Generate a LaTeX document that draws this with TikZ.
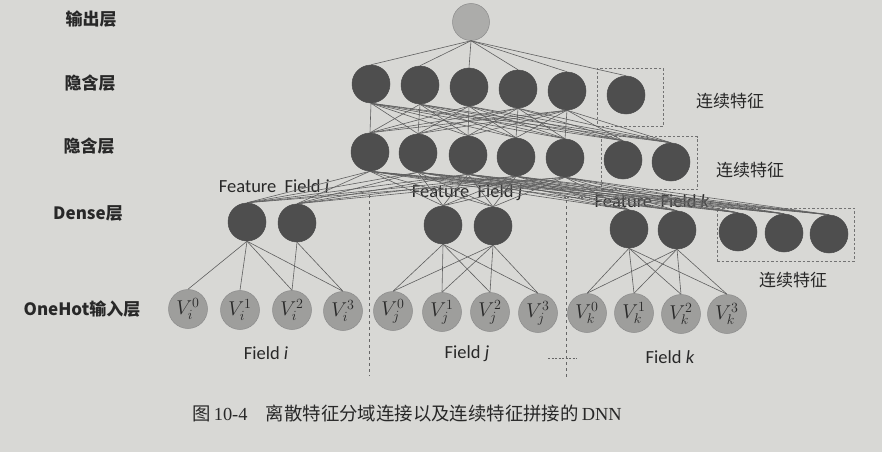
\RequirePackage{fix-cm}
\documentclass[tikz,border=0pt]{standalone}
\usepackage{fontspec}
\newfontfamily\cjk{Noto Sans CJK SC}
\newfontfamily\lab{Carlito}
\newfontfamily\capser{Liberation Serif}
\definecolor{bgcol}{RGB}{216,216,213}
\definecolor{ink}{RGB}{40,40,40}
\definecolor{hidfill}{RGB}{78,78,78}
\definecolor{inpfill}{RGB}{158,158,156}
\definecolor{outfill}{RGB}{172,172,170}
\definecolor{linecol}{RGB}{95,95,95}
\newcommand{\vlab}[2]{{\fontsize{20}{20}\selectfont$V_{#1}^{#2}$}}
\begin{document}
\begin{tikzpicture}[x=1pt,y=-1pt,
  hid/.style={circle,draw=black!70,fill=hidfill,minimum size=38pt,inner sep=0pt,line width=0.5pt},
  inp/.style={circle,draw=black!45,fill=inpfill,minimum size=39pt,inner sep=0pt,line width=0.5pt,text=ink},
  outn/.style={circle,draw=black!45,fill=outfill,minimum size=37pt,inner sep=0pt,line width=0.5pt},
  conn/.style={draw=linecol,line width=0.6pt},
  grp/.style={draw=black!55,line width=0.7pt,dash pattern=on 2.5pt off 2pt},
  sep/.style={draw=black!60,line width=0.7pt,dash pattern=on 3pt off 3pt},
  lay/.style={font=\cjk\bfseries\fontsize{17}{17}\selectfont,text=ink,anchor=center},
  cont/.style={font=\cjk\fontsize{17}{17}\selectfont,text=ink,anchor=center},
  fld/.style={font=\lab\fontsize{18.5}{18.5}\selectfont,text=ink,anchor=center}]
\fill[bgcol] (0,0) rectangle (882,452);
\useasboundingbox (0,0) rectangle (882,452);

% layer labels
\node[lay] (L1) at (91,19) {输出层};
\node[lay] (L2) at (90,83) {隐含层};
\node[lay] (L3) at (89,146) {隐含层};
\node[lay] (L4) at (88,213) {Dense层};
\node[lay] (L5) at (82,309) {OneHot输入层};

% group boxes
\node[grp,minimum width=66pt,minimum height=58pt,inner sep=0pt] (B1) at (630,97) {};
\node[grp,minimum width=96pt,minimum height=53pt,inner sep=0pt] (B2) at (649,163) {};
\node[grp,minimum width=137pt,minimum height=53pt,inner sep=0pt] (B3) at (785.5,234.5) {};
\node[cont] (C1) at (730,101) {连续特征};
\node[cont] (C2) at (750,170) {连续特征};
\node[cont] (C3) at (793,280) {连续特征};

% separators
\coordinate (s1t) at (369,195);
\coordinate (s1b) at (369,376);
\coordinate (s2t) at (566,200);
\coordinate (s2b) at (566,378);
\draw[sep] (s1t) -- (s1b);
\draw[sep] (s2t) -- (s2b);
\coordinate (d1a) at (548,358);
\coordinate (d1b) at (577,358);
\draw[sep,dash pattern=on 2pt off 1.5pt] (d1a) -- (d1b);

% nodes
\node[outn] (out) at (471,22) {};
\foreach \n/\x/\y in {1/371/84,2/420/85,3/469/87,4/518/89,5/567/91,6/626/95}
  \node[hid] (h1-\n) at (\x,\y) {};
\foreach \n/\x/\y in {1/370/152,2/418/153,3/468/155,4/516/157,5/565/158,6/623/160,7/671/162}
  \node[hid] (h2-\n) at (\x,\y) {};
\foreach \n/\x/\y in {1/247/222,2/297/223,3/443/225,4/493/226,5/629/229,6/677/230,7/738/232,8/784/233,9/829/234}
  \node[hid] (d-\n) at (\x,\y) {};

\foreach \n/\x/\y in {0/188/309,1/240/310,2/292/310,3/343/311}
  \node[inp] (vi-\n) at (\x,\y) {\vlab{i}{\n}};
\foreach \n/\x/\y in {0/393/311,1/442/312,2/490/312,3/538/313}
  \node[inp] (vj-\n) at (\x,\y) {\vlab{j}{\n}};
\foreach \n/\x/\y in {0/587/313,1/634/313,2/681/314,3/727/314}
  \node[inp] (vk-\n) at (\x,\y) {\vlab{k}{\n}};

% labels
\node[fld] (F1) at (274,186) {Feature\ \ Field \textit{i}};
\node[fld] (F2) at (467,193) {Feature\ \ Field \textit{j}};
\node[fld] (F3) at (652,201) {Feature\ \ Field \textit{k}};
\coordinate (d2a) at (560,197);
\coordinate (d2b) at (590,197);
\draw[sep,dash pattern=on 2pt off 1.5pt] (d2a) -- (d2b);
\node[fld] (G1) at (266,353) {Field \textit{i}};
\node[fld] (G2) at (467,354) {Field \textit{j}};
\node[fld] (G3) at (670,357) {Field \textit{k}};

% connections
\foreach \a in {1,...,6}
  \draw[conn] (out.south) -- (h1-\a.north);
\foreach \a in {1,...,5}
  \foreach \b in {1,...,7}
    \draw[conn] (h1-\a.south) -- (h2-\b.north);
\foreach \a in {1,...,5}
  \foreach \b in {1,...,9}
    \draw[conn] (h2-\a.south) -- (d-\b.north);
\foreach \b in {0,...,3}
  \draw[conn] (d-1.south) -- (vi-\b.north);
\draw[conn] (d-2.south) -- (vi-2.north);
\draw[conn] (d-2.south) -- (vi-3.north);
\foreach \a in {3,4}
  \foreach \b in {0,...,3}
    \draw[conn] (d-\a.south) -- (vj-\b.north);
\foreach \a in {5,6}
  \foreach \b in {0,...,3}
    \draw[conn] (d-\a.south) -- (vk-\b.north);

% caption
\node[anchor=center,text=ink] (cap) at (407,413)
  {\fontsize{18.4}{18.4}\selectfont\cjk 图\,{\capser 10-4}\quad 离散特征分域连接以及连续特征拼接的\,{\capser DNN}};
\end{tikzpicture}
\end{document}
